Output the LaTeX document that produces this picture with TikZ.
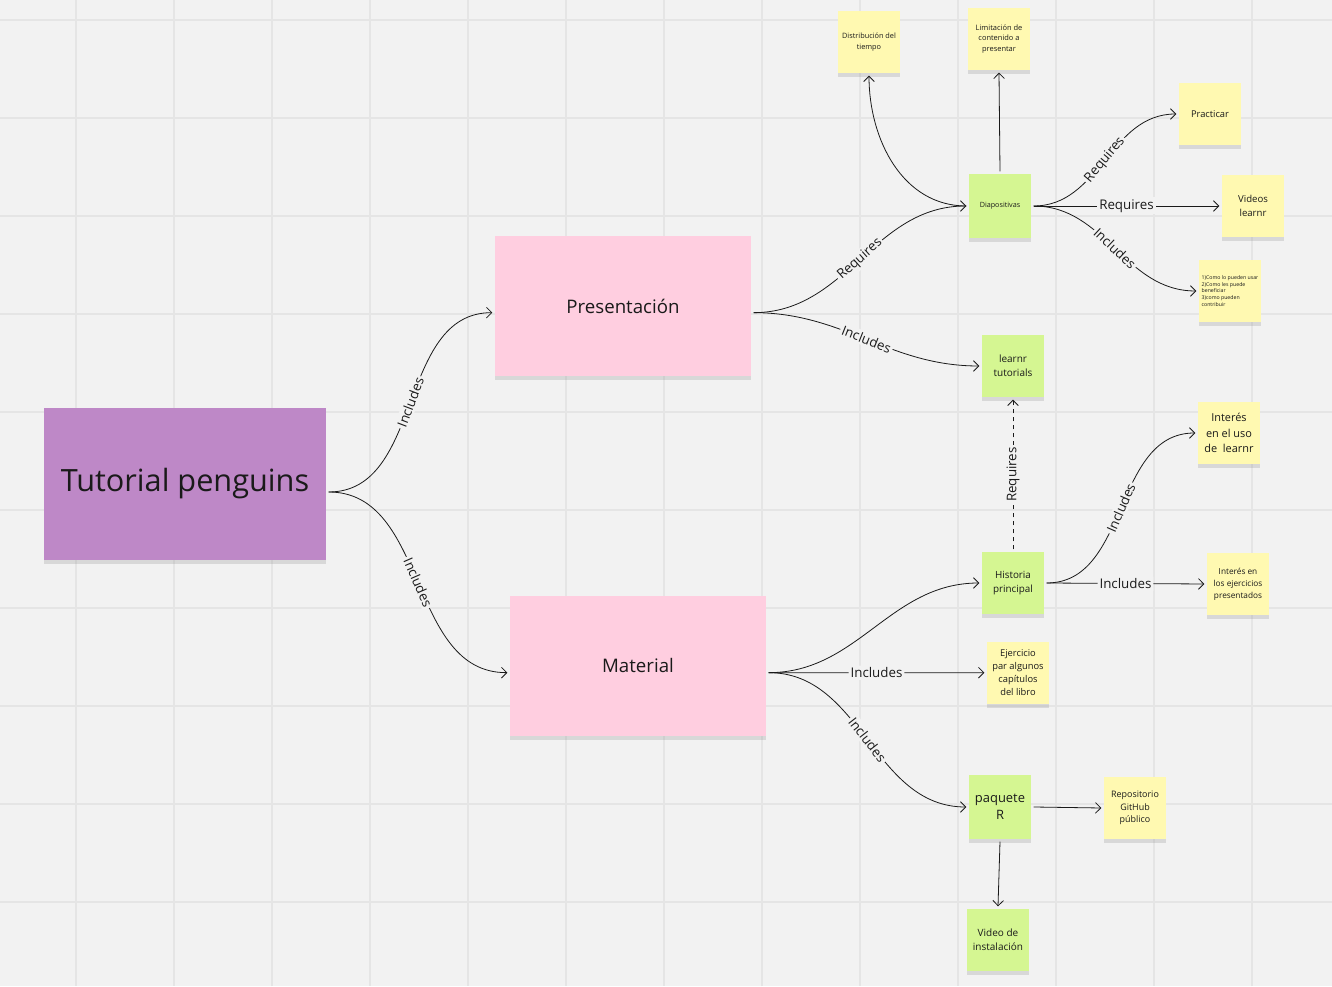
\documentclass[tikz,border=0pt]{standalone}
\usepackage{fontspec}
\setmainfont{Open Sans}
\usetikzlibrary{arrows.meta,shadows}
\definecolor{board}{HTML}{F2F2F2}
\definecolor{gridline}{HTML}{E5E5E5}
\definecolor{notepurple}{HTML}{BE88C7}
\definecolor{notepink}{HTML}{FFCEE0}
\definecolor{notegreen}{HTML}{D5F692}
\definecolor{noteyellow}{HTML}{FFF9B1}
\definecolor{ink}{HTML}{1A1A1A}

\begin{document}
\begin{tikzpicture}[x=0.75pt,y=0.75pt,
  note/.style={align=center,inner sep=1pt,outer sep=2pt,text=ink,
    minimum width=46.5pt,minimum height=46.5pt,
    drop shadow={shadow xshift=0pt,shadow yshift=-3pt,opacity=.22}},
  big/.style={note,minimum width=192pt,minimum height=105pt},
  link/.style={draw=ink,line width=0.6pt,-{Straight Barb[length=4pt,width=8pt]}},
  lbl/.style={sloped,fill=board,inner sep=1.5pt,text=ink,font=\fontsize{10}{12}\selectfont}]
  \useasboundingbox (0,0) rectangle (1332,986);
  \fill[board] (0,0) rectangle (1332,986);
  \foreach \gx in {76,174,...,1300} \draw[gridline,line width=0.8pt] (\gx,0)--(\gx,986);
  \foreach \gy in {84,182,...,980} \draw[gridline,line width=0.8pt] (0,\gy)--(1332,\gy);
  \foreach \gx in {272,762,1252} \draw[gridline,line width=1.6pt] (\gx,0)--(\gx,986);
  \foreach \gy in {476,966} \draw[gridline,line width=1.6pt] (0,\gy)--(1332,\gy);

  % main notes
  \node[big,fill=notepurple,minimum width=211.5pt,minimum height=114pt,font=\fontsize{23}{26}\selectfont] (tut) at (185,502) {Tutorial penguins};
  \node[big,fill=notepink,font=\fontsize{14}{17}\selectfont] (pres) at (623,680) {Presentación};
  \node[big,fill=notepink,font=\fontsize{14}{17}\selectfont] (mat) at (638,320) {Material};

  % presentation branch
  \node[note,fill=notegreen,minimum height=48pt,font=\fontsize{5.4}{7}\selectfont] (dia) at (1000,780) {Diapositivas};
  \node[note,fill=noteyellow,font=\fontsize{5.5}{8}\selectfont] (dist) at (869,944) {Distribución del\\tiempo};
  \node[note,fill=noteyellow,font=\fontsize{5.6}{8}\selectfont] (lim) at (999,947) {Limitación de\\contenido a\\presentar};
  \node[note,fill=noteyellow,font=\fontsize{7}{9}\selectfont] (prac) at (1210,872) {Practicar};
  \node[note,fill=noteyellow,font=\fontsize{7.2}{10}\selectfont] (vid) at (1253,780) {Videos\\learnr};
  \node[note,fill=noteyellow,align=left,font=\fontsize{3.9}{5.2}\selectfont] (como) at (1230,695) {1)Como lo pueden usar\\2)Como les puede\\beneficiar\\3)como pueden\\contribuir};
  \node[note,fill=notegreen,font=\fontsize{7.5}{10.5}\selectfont] (ltut) at (1013,620) {learnr\\tutorials};

  % material branch
  \node[note,fill=notegreen,font=\fontsize{7.4}{10.5}\selectfont] (hist) at (1013,403) {Historia\\principal};
  \node[note,fill=noteyellow,font=\fontsize{8.2}{11.5}\selectfont] (iuso) at (1229,553) {Interés\\en el uso\\de\ \ learnr};
  \node[note,fill=noteyellow,font=\fontsize{6.2}{9}\selectfont] (iej) at (1238,402) {Interés en\\los ejercicios\\presentados};
  \node[note,fill=noteyellow,font=\fontsize{7}{9.6}\selectfont] (ejer) at (1018,313.3) {Ejercicio\\par algunos\\capítulos\\del libro};
  \node[note,fill=notegreen,minimum height=48pt,font=\fontsize{9.7}{13}\selectfont] (paq) at (1000,179) {paquete\\R};
  \node[note,fill=noteyellow,font=\fontsize{6.7}{9.5}\selectfont] (repo) at (1135,178) {Repositorio\\GitHub\\público};
  \node[note,fill=notegreen,font=\fontsize{7.5}{10.5}\selectfont] (vinst) at (998,46) {Video de\\instalación};

  % connectors
  \draw[link] ([yshift=-6pt]tut.east) to[out=0,in=180] node[lbl]{Includes} ([yshift=-5pt]pres.west);
  \draw[link] ([yshift=-6pt]tut.east) to[out=0,in=180] node[lbl]{Includes} ([yshift=-5pt]mat.west);
  \draw[link] ([yshift=-5pt]pres.east) to[out=0,in=180] node[lbl]{Requires} (dia.west);
  \draw[link] ([yshift=-5pt]pres.east) to[out=0,in=180] node[lbl]{Includes} (ltut.west);
  \draw[link] (dia.west) to[out=180,in=-90] (dist.south);
  \draw[link] (dia.north) -- (lim.south);
  \draw[link] (dia.east) to[out=0,in=180] node[lbl]{Requires} (prac.west);
  \draw[link] (dia.east) -- node[lbl]{Requires} (vid.west);
  \draw[link] (dia.east) to[out=0,in=180] node[lbl]{Includes} (como.west);
  \draw[link,dashed] (hist.north) -- node[lbl]{Requires} (ltut.south);
  \draw[link] ([yshift=-5pt]mat.east) to[out=0,in=180] (hist.west);
  \draw[link] ([yshift=-5pt]mat.east) -- node[lbl]{Includes} (ejer.west);
  \draw[link] ([yshift=-5pt]mat.east) to[out=0,in=180] node[lbl]{Includes} (paq.west);
  \draw[link] (hist.east) to[out=0,in=180] node[lbl]{Includes} (iuso.west);
  \draw[link] (hist.east) -- node[lbl]{Includes} (iej.west);
  \draw[link] (paq.east) -- (repo.west);
  \draw[link] (paq.south) -- (vinst.north);
\end{tikzpicture}
\end{document}
